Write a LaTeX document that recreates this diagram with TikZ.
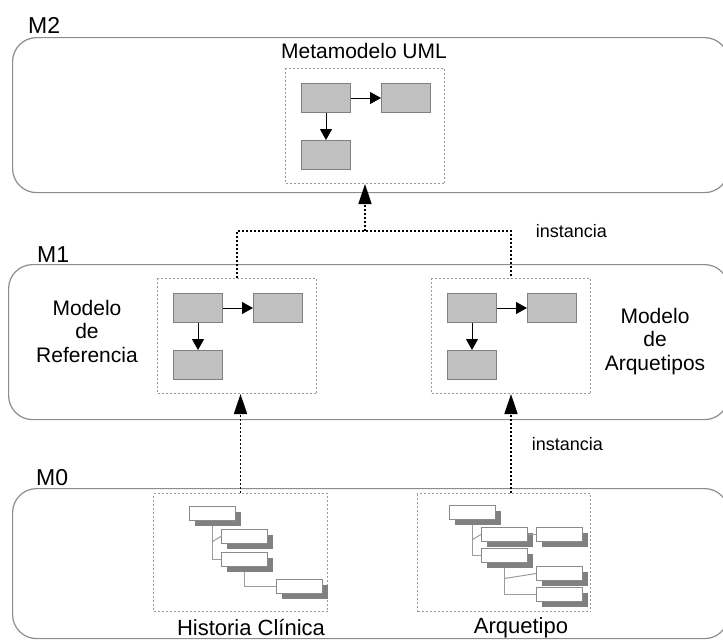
\documentclass[tikz,border=0pt]{standalone}
\usepackage{fontspec}
\setmainfont{Liberation Sans}
\usetikzlibrary{arrows.meta,calc,shadows}
\definecolor{framegray}{HTML}{8C8C8C}
\definecolor{clsfill}{HTML}{C0C0C0}
\definecolor{clsline}{HTML}{808080}
\definecolor{dotgray}{HTML}{9A9A9A}
\definecolor{shadowgray}{HTML}{808080}
\definecolor{leafline}{HTML}{8A8A8A}
\definecolor{branchgray}{HTML}{9C9C9C}
% one dotted package: three classes with an association and a dependency
\newcommand\umlgroup[3]{%
  \node[group] (#1) at (#2,#3) {};
  \node[cls] (#1-a) at ($(#1.north west)+(16,15)$) {};
  \node[cls] (#1-b) at ($(#1.north west)+(96,15)$) {};
  \node[cls] (#1-c) at ($(#1.north west)+(16,72)$) {};
  \draw[assoc] (#1-a.east) -- (#1-b.west);
  \draw[assoc] (#1-a.south) -- (#1-c.north);
}
\begin{document}
\begin{tikzpicture}[x=1pt,y=-1pt,
  layer/.style={draw=framegray, line width=1.2pt, rounded corners=24pt,
    anchor=north west, inner sep=0pt},
  layername/.style={anchor=base west, inner sep=0pt, font=\fontsize{23}{27}\selectfont},
  group/.style={draw=dotgray, line width=1pt, dash pattern=on 2pt off 2pt,
    anchor=north west, minimum width=159pt, minimum height=115pt, inner sep=0pt},
  extgroup/.style={group, minimum height=118pt},
  cls/.style={draw=clsline, fill=clsfill, line width=1pt, anchor=north west,
    minimum width=49pt, minimum height=29pt, inner sep=0pt},
  assoc/.style={-{Triangle[length=11pt,width=12pt]}, line width=1pt},
  inst/.style={line width=1.6pt, dash pattern=on 2pt off 2pt},
  instarrow/.style={inst, -{Triangle[length=20pt,width=13pt]}},
  item/.style={draw=leafline, fill=white, line width=1pt, anchor=north west,
    minimum width=46pt, minimum height=14pt, inner sep=0pt,
    drop shadow={shadow xshift=5pt, shadow yshift=-5pt, fill=shadowgray, opacity=1}},
  branch/.style={draw=branchgray, line width=1pt},
  title/.style={anchor=base, inner sep=0pt, font=\fontsize{21}{25}\selectfont},
  side/.style={anchor=base, inner sep=0pt, align=center, font=\fontsize{21}{23.5}\selectfont},
  note/.style={anchor=base east, inner sep=0pt, font=\fontsize{18}{21}\selectfont},
  caption/.style={anchor=base, inner sep=0pt, font=\fontsize{22}{26}\selectfont}]
\useasboundingbox (0,0) rectangle (723,641);

% ---- layers
\node[layer, minimum width=716pt, minimum height=155pt] (m2) at (12,37) {};
\node[layer, minimum width=720pt, minimum height=155pt] (m1) at (8,264) {};
\node[layer, minimum width=716pt, minimum height=150pt] (m0) at (12,488) {};
\node[layername] (m2n) at (28,33) {M2};
\node[layername] (m1n) at (37,262) {M1};
\node[layername] (m0n) at (36,485) {M0};

% ---- M2: UML metamodel
\node[title] (mmt) at (364,58) {Metamodelo UML};
\umlgroup{m2g}{285}{68}

% ---- M1: reference model and archetype model
\umlgroup{mrl}{157}{278}
\umlgroup{mar}{431}{278}
\node[side] (mref) at (87,362) {Modelo\\de\\Referencia};
\node[side] (march) at (655,370) {Modelo\\de\\Arquetipos};

% ---- M0: health record and archetype trees
\node[extgroup, minimum width=174pt] (hc) at (153,493) {};
\node[extgroup, minimum width=173pt] (arq) at (417,493) {};

\node[item] (h1) at (189,506) {};
\node[item] (h2) at (221,529) {};
\node[item] (h3) at (221,552) {};
\node[item] (h4) at (276,579) {};
\draw[branch] ([yshift=-5pt]h1.south) |- (h3.west);
\draw[branch] ([yshift=-5pt]h1.south |- h2.west) -- (h2.west);
\draw[branch] ([yshift=-5pt]h3.south) |- (h4.west);

\node[item] (a1) at (449,505) {};
\node[item] (a2) at (481,527) {};
\node[item] (a2b) at (536,527) {};
\node[item] (a3) at (481,548) {};
\node[item] (a4) at (536,566) {};
\node[item] (a5) at (536,587) {};
\draw[branch] ([yshift=-5pt]a1.south) |- (a3.west);
\draw[branch] ([yshift=-5pt]a1.south |- a2.west) -- (a2.west);
\draw[branch] (a2.east) -- (a2b.west);
\draw[branch] ([yshift=-5pt]a3.south) |- (a5.west);
\draw[branch] ([yshift=-5pt]a3.south |- a4.west) -- (a4.west);

\node[caption] (hcn) at (251,635) {Historia Clínica};
\node[caption] (arqn) at (521,633) {Arquetipo};

% ---- instantiation links
\coordinate (j) at (m2g.south |- 0,231);
\draw[inst] (mrl.north) |- (j) -| (mar.north);
\draw[instarrow] (j) -- (m2g.south);
\draw[instarrow] (hc.north) -- (hc.north |- mrl.south);
\draw[instarrow] (mar.south |- arq.north) -- (mar.south);
\node[note] (i1) at (607,237) {instancia};
\node[note] (i2) at (603,450) {instancia};
\end{tikzpicture}
\end{document}
